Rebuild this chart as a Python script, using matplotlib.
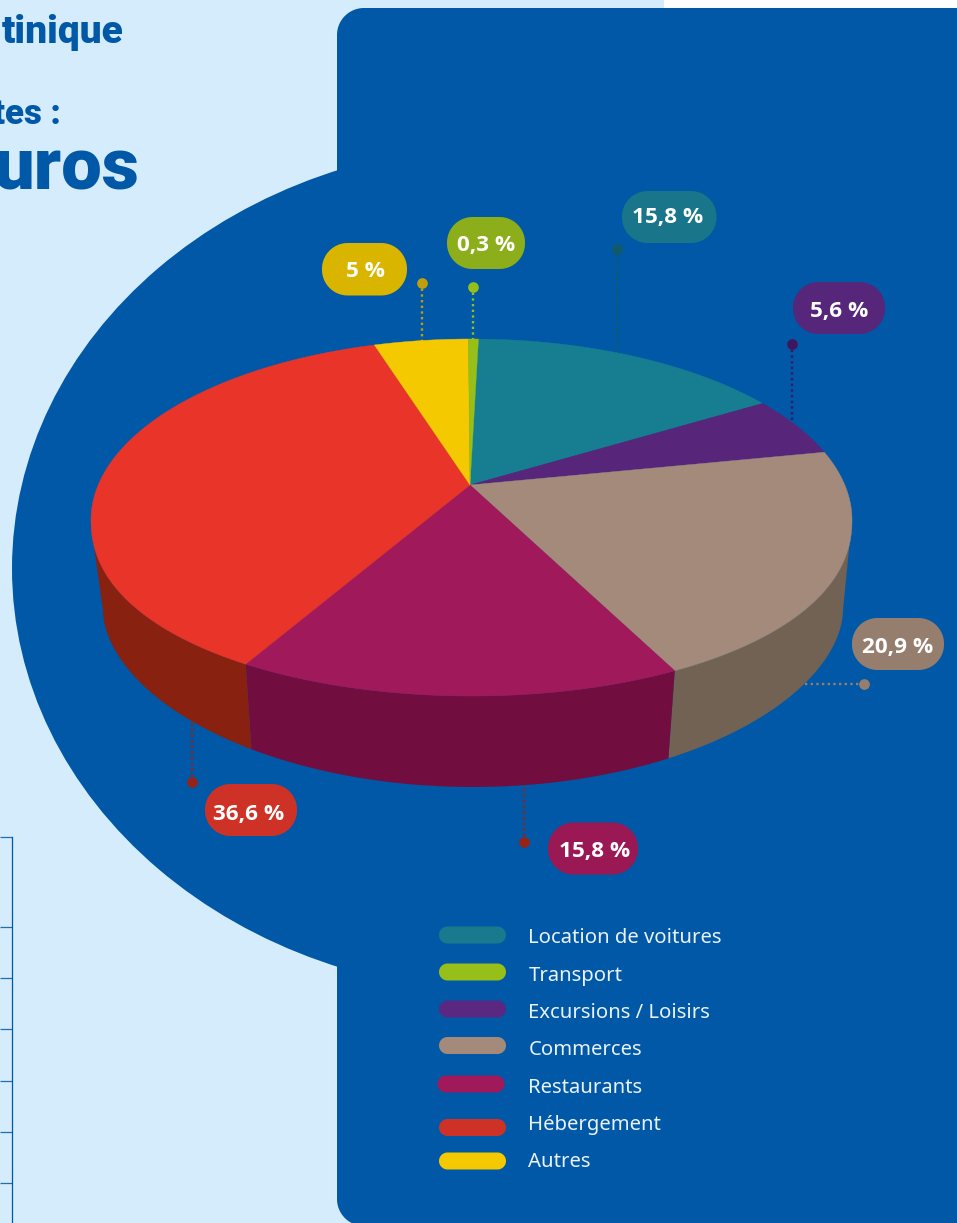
import matplotlib
matplotlib.use('Agg')
import matplotlib.pyplot as plt
import numpy as np
from matplotlib.patches import Rectangle, Ellipse

# categories in legend order, with the printed labels
categories = ['Location de voitures', 'Transport', 'Excursions / Loisirs', 'Commerces',
              'Restaurants', 'Hébergement', 'Autres']
printed_values = ['15,8 %', '0,3 %', '5,6 %', '20,9 %', '15,8 %', '36,6 %', '5 %']

# the slices as they are really drawn in the picture (% of the turn), clockwise order
pie_order = ['Location de voitures', 'Excursions / Loisirs', 'Commerces', 'Restaurants',
             'Hébergement', 'Autres', 'Transport']
drawn_shares = [13.57, 5.03, 22.14, 19.08, 35.78, 3.98, 0.42]

top_colors = {'Location de voitures': '#177E91', 'Transport': '#97BF1A',
              'Excursions / Loisirs': '#57267A', 'Commerces': '#A38A7A',
              'Restaurants': '#A01A5B', 'Hébergement': '#E9342A', 'Autres': '#F4C900'}
side_colors = {'Commerces': '#716254', 'Restaurants': '#720E3F', 'Hébergement': '#88210F'}
badge_colors = ['#18758A', '#8BAE1A', '#55267A', '#967E6F', '#9A1854', '#CE3226', '#DAB500']
legend_colors = ['#187A8C', '#97BF1A', '#5A2880', '#A38A7A', '#A01A5B', '#CE3226', '#F4C900']
dot_colors = ['#115A6A', '#97BF1A', '#3F1760', '#967E6F', '#96231A', '#96231A', '#C29F0A']

BLUE = '#0058A6'
LIGHT = '#D4ECFC'

# layout (pixels of the image)
badge_boxes = [(622, 191, 94.5, 52), (447, 217, 78, 52), (793, 282, 92, 52), (852, 618, 92, 52),
               (548, 822.5, 90, 52), (205, 784, 92, 52), (322, 243, 85, 52.5)]
badge_dx = [-2, 0, 0, -0.5, 1.5, -2.5, 1]
badge_dy = [-2, 0, 0.5, 0.5, 0, 2, 0]
leaders = [((617, 248.5), (617, 360)), ((473, 287), (473, 345)), ((792, 344), (792, 425)),
           ((864, 684), (795, 684)), ((524, 842), (524, 780)), ((192, 782), (192, 715)),
           ((421.5, 283), (421.5, 350))]
legend_x = [439, 439, 439, 439, 437.5, 439, 439]
legend_y = [935, 972, 1009, 1045.5, 1084, 1127.5, 1161]
legend_base = [943, 981, 1018, 1055, 1093, 1130, 1167]
table_y = [836.8, 927, 978.3, 1029.3, 1080.7, 1132, 1183.3]

apex = (470, 485)
start_angle = 88.95

fig = plt.figure(figsize=(9.57, 12.23), dpi=100)
ax = fig.add_axes([0, 0, 1, 1])
ax.set_xlim(0, 957)
ax.set_ylim(1223, 0)
ax.axis('off')


def round_box(x, y, w, h, r, **kw):
    # real circular corners, the fancybox ones look too square
    t = np.linspace(0, np.pi / 2, 24)
    xs = np.r_[x + w - r + r * np.sin(t), x + w - r + r * np.cos(t), x + r - r * np.sin(t), x + r - r * np.cos(t)]
    ys = np.r_[y + r - r * np.cos(t), y + h - r + r * np.sin(t), y + h - r + r * np.cos(t), y + r - r * np.sin(t)]
    ax.fill(xs, ys, ec='none', lw=0, **kw)


def top_arc(a, b, n=200):
    # the top face is a bit fuller than an ellipse on its lower half
    t = np.radians(np.linspace(a, b, n))
    s = np.sin(t)
    y = np.where(s >= 0, 520 - 181 * s, 520 + 176 * np.abs(s) ** 0.92)
    return 471.5 + 380.5 * np.cos(t), y


def low_arc(a, b, n=200):
    t = np.radians(np.linspace(a, b, n))
    return 473 + 370 * np.cos(t), 610 + 177 * np.abs(np.sin(t)) ** 1.08


ax.add_patch(Rectangle((0, 0), 957, 1223, fc=LIGHT, ec='none', zorder=0))
ax.add_patch(Rectangle((664, 0), 293, 9, fc='white', ec='none', zorder=0.5))

# dark blue background
ax.add_patch(Ellipse((512, 568.5), 1000, 850, fc=BLUE, ec='none', zorder=1))
round_box(337, 8, 700, 1218, 27, fc=BLUE, zorder=1)

# bits of the page left of the crop
ax.text(123.5, 43, 'tinique', color=BLUE, fontsize=28, family='Roboto', weight='black', ha='right',
        va='baseline')
ax.text(61, 124, 'tes :', color=BLUE, fontsize=25, family='Roboto', weight='black', ha='right',
        va='baseline')
ax.text(140, 190, 'uros', color=BLUE, fontsize=52, family='Roboto', weight='black', ha='right',
        va='baseline')
for y in table_y:
    ax.plot([0, 11.5], [y, y], color=BLUE, lw=0.9, alpha=0.85, zorder=1, solid_capstyle='butt')
ax.plot([11.5, 11.5], [table_y[0], 1223], color=BLUE, lw=0.9, zorder=1)

# leader lines stay behind the pie
for (p0, p1), col in zip(leaders, dot_colors):
    ax.plot([p0[0], p1[0]], [p0[1], p1[1]], color=col, lw=1.7, ls=(0, (1, 1.4)), zorder=2)
    ax.plot(p0[0], p0[1], 'o', color=col, ms=7.7, mec='none', zorder=2)

# pie: sides then top
angle = start_angle
edges = []
for name, share in zip(pie_order, drawn_shares):
    sweep = share * 3.6
    edges.append((name, angle, angle - sweep))
    angle -= sweep

for name, a, b in edges:
    if name not in side_colors:
        continue
    if name == 'Hébergement':
        # the slice wraps over the top, only its front part shows a side
        tx, ty = top_arc(187, a + 360)
        lx, ly = low_arc(a + 360 - 0.4, 180)
    elif name == 'Commerces':
        tx, ty = top_arc(b, -6.5)
        lx, ly = low_arc(0, b - 0.4)
    else:
        tx, ty = top_arc(a, b)
        lx, ly = low_arc(b - 0.4, a - 0.4)
    ax.fill(np.r_[tx, lx], np.r_[ty, ly], color=side_colors[name], ec='none', lw=0, zorder=3)

for name, a, b in edges:
    x, y = top_arc(a, b)
    ax.fill(np.r_[apex[0], x], np.r_[apex[1], y], fc=top_colors[name], ec=top_colors[name],
            lw=0.3, zorder=4)

# value badges
for (x, y, w, h), col, txt, dx, dy in zip(badge_boxes, badge_colors, printed_values, badge_dx, badge_dy):
    round_box(x, y, w, h, h / 2 - 0.5, fc=col, zorder=5)
    ax.text(x + w / 2 + dx, y + h / 2 + 8.2 + dy, txt, color='white', fontsize=16.2, family='Open Sans',
            weight='bold', ha='center', va='baseline', zorder=6)

# legend
for name, col, xs, yc, yb in zip(categories, legend_colors, legend_x, legend_y, legend_base):
    round_box(xs, yc - 8.5, 67, 17, 8.5, fc=col, zorder=5)
    ax.text(528.5, yb, name, color='#EAF2FA', fontsize=14.6, family='Noto Sans', ha='left',
            va='baseline', zorder=6)

fig.savefig('out.png', dpi=100)
